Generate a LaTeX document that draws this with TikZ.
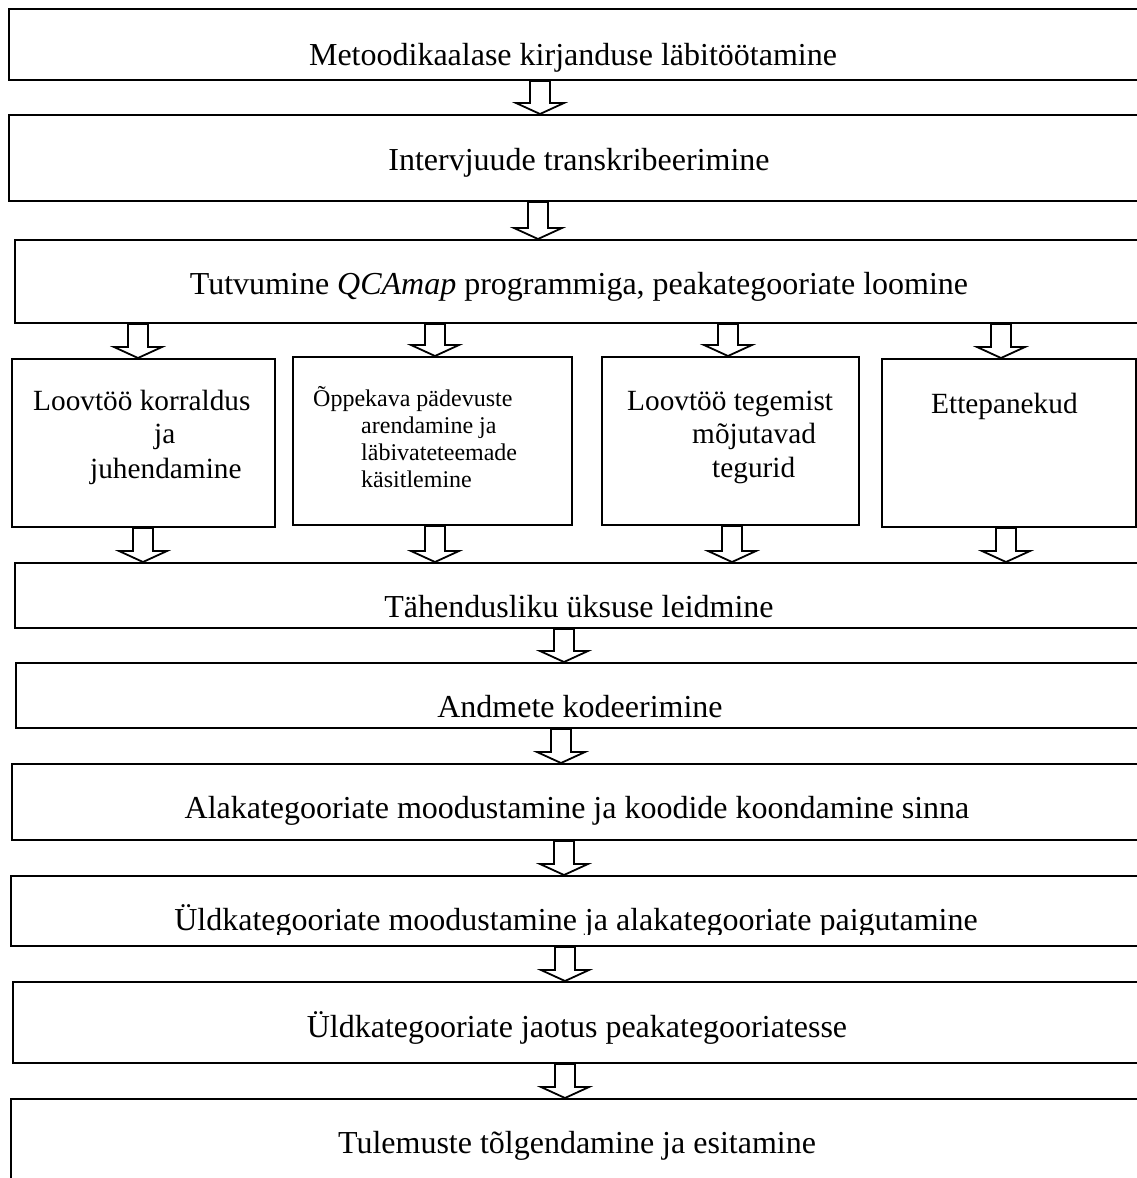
\documentclass[tikz,border=0pt]{standalone}
\usepackage{fontspec}
\setmainfont{Liberation Serif}
\usetikzlibrary{calc}
\tikzset{
  boxx/.style={draw=black, line width=2pt, inner sep=0pt, anchor=north west},
  arrowline/.style={draw=black, line width=1.8pt, fill=white, line join=miter},
  wtext/.style={font=\fontsize{32}{36}\selectfont, anchor=base, inner sep=0pt},
  mtext/.style={font=\fontsize{29.3}{34}\selectfont, anchor=base west, inner sep=0pt},
  stext/.style={font=\fontsize{24}{27}\selectfont, anchor=base west, inner sep=0pt},
}
\newcommand{\boxat}[5]{\node[boxx, minimum width={#4-#2}, minimum height={#5-#3}] (#1) at (#2,#3) {};}
\newcommand{\blockarrow}[3]{%
  \draw[arrowline] let \p1=(#1,0 |- #2.south), \p2=(#1,0 |- #3.north) in
  (\x1-10,\y1) -- (\x1-10,\y2+11) -- (\x1-24,\y2+11) -- (\x1,\y2) --
  (\x1+24,\y2+11) -- (\x1+10,\y2+11) -- (\x1+10,\y1) -- cycle;}
\begin{document}
\begin{tikzpicture}[x=1pt,y=-1pt]
\clip (0,0) rectangle (1137,1178);
\fill[white] (0,0) rectangle (1137,1178);
% boxes
\boxat{b1}{8}{8}{1165}{79}
\boxat{b2}{8}{114}{1165}{200}
\boxat{b3}{14}{239}{1165}{322}
\boxat{b4a}{11}{358}{274}{526}
\boxat{b4b}{292}{356}{571}{524}
\boxat{b4c}{601}{356}{858}{524}
\boxat{b4d}{881}{358}{1135}{526}
\boxat{b5}{14}{562}{1165}{627}
\boxat{b6}{15}{662}{1165}{727}
\boxat{b7}{11}{763}{1165}{839}
\boxat{b8}{10}{875}{1165}{945}
\boxat{b9}{12}{981}{1165}{1062}
\boxat{b10}{10}{1098}{1165}{1220}
% arrows
\blockarrow{540}{b1}{b2}
\blockarrow{538}{b2}{b3}
\blockarrow{138}{b3}{b4a}
\blockarrow{435}{b3}{b4b}
\blockarrow{728}{b3}{b4c}
\blockarrow{1001}{b3}{b4d}
\blockarrow{143}{b4a}{b5}
\blockarrow{435}{b4b}{b5}
\blockarrow{732}{b4c}{b5}
\blockarrow{1006}{b4d}{b5}
\blockarrow{564}{b5}{b6}
\blockarrow{561}{b6}{b7}
\blockarrow{564}{b7}{b8}
\blockarrow{565}{b8}{b9}
\blockarrow{565}{b9}{b10}
% texts
\node[wtext] (t1) at (573,65) {Metoodikaalase kirjanduse läbitöötamine};
\node[wtext] (t2) at (579,170) {Intervjuude transkribeerimine};
\node[wtext] (t3) at (579,294) {Tutvumine \textit{QCAmap} programmiga, peakategooriate loomine};
\node[mtext] (t4a1) at (33,410) {Loovtöö korraldus};
\node[mtext] (t4a2) at (154,443) {ja};
\node[mtext] (t4a3) at (90,478) {juhendamine};
\node[stext] (t4b1) at (313,406) {Õppekava pädevuste};
\node[stext] (t4b2) at (361,433) {arendamine ja};
\node[stext] (t4b3) at (361,460) {läbivateteemade};
\node[stext] (t4b4) at (361,487) {käsitlemine};
\node[mtext] (t4c1) at (627,410) {Loovtöö tegemist};
\node[mtext] (t4c2) at (692,443) {mõjutavad};
\node[mtext] (t4c3) at (712,477) {tegurid};
\node[mtext] (t4d1) at (931,413) {Ettepanekud};
\begin{scope}
  \clip (0,570) rectangle (1137,617);
  \node[wtext] (t5) at (579,617) {Tähendusliku üksuse leidmine};
\end{scope}
\begin{scope}
  \clip (0,670) rectangle (1137,717.5);
  \node[wtext] (t6) at (580,717) {Andmete kodeerimine};
\end{scope}
\node[wtext] (t7) at (577,818) {Alakategooriate moodustamine ja koodide koondamine sinna};
\begin{scope}
  \clip (0,880) rectangle (1137,934);
  \node[wtext] (t8) at (576,930) {Üldkategooriate moodustamine ja alakategooriate paigutamine};
\end{scope}
\node[wtext] (t9) at (577,1037) {Üldkategooriate jaotus peakategooriatesse};
\node[wtext] (t10) at (577,1153) {Tulemuste tõlgendamine ja esitamine};
\end{tikzpicture}
\end{document}
